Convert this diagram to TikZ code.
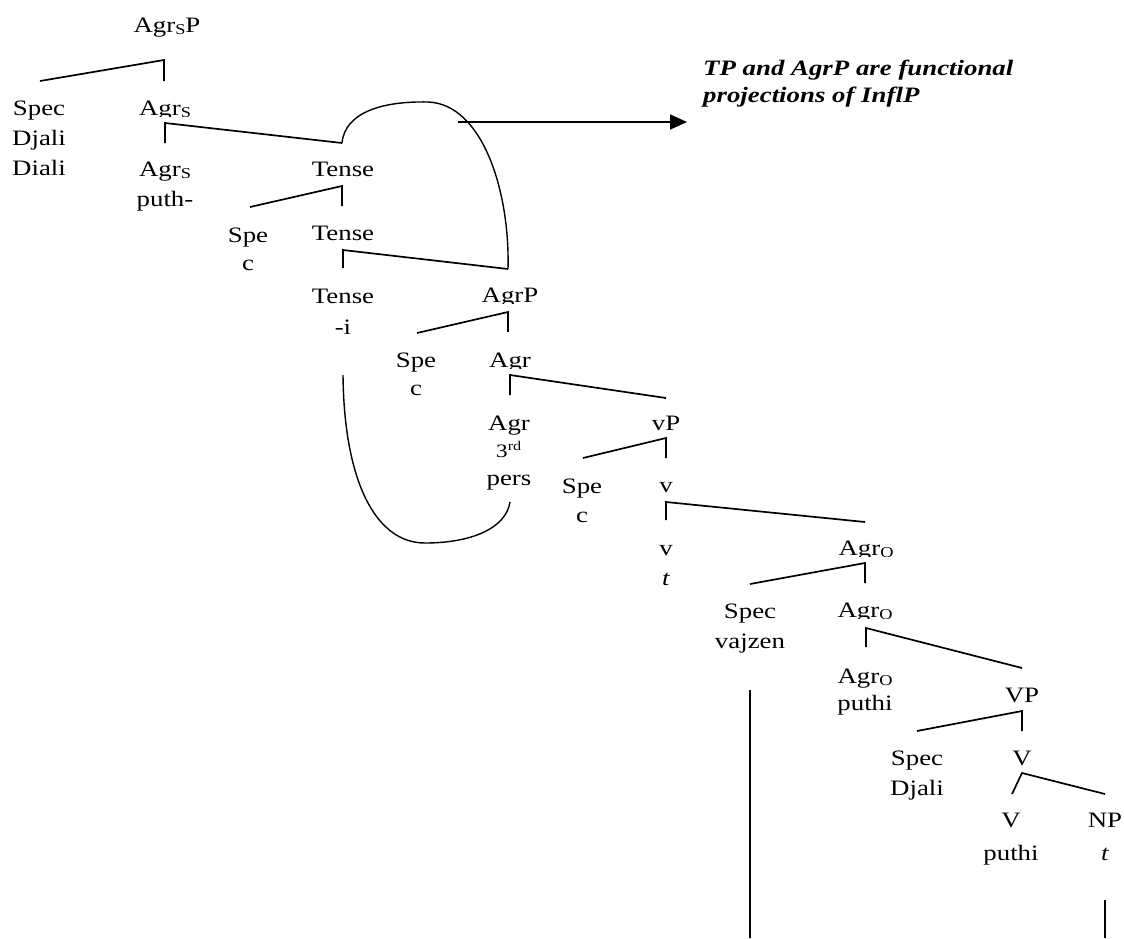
\documentclass[tikz,border=0pt]{standalone}
\usepackage{fontspec}
\setmainfont{Liberation Serif}[FakeStretch=1.22]
\usetikzlibrary{arrows.meta}
\newcommand\stk[1]{\begin{tabular}[t]{@{}c@{}}#1\end{tabular}}
\newcommand\sbs[1]{\raisebox{-0.25ex}{\fontsize{15}{15}\selectfont #1}}
\begin{document}
\begin{tikzpicture}[x=1pt,y=-1pt,
  br/.style={line width=1.7pt},
  loop/.style={line width=1.4pt},
  lbl/.style={inner sep=0pt, anchor=base, font=\fontsize{22}{30}\selectfont},
  note/.style={inner sep=0pt, anchor=base west, align=left, font=\fontsize{22}{27}\selectfont\bfseries\itshape}]
\useasboundingbox (0,0) rectangle (1124,938);

% ---------- labels ----------
\node[lbl] (agrsp) at (167,32) {Agr\sbs{S}P};
\node[lbl] (spec1) at (39,115) {\stk{Spec\\Djali\\Diali}};
\begin{scope}\clip (100,80) rectangle (230,116);
\node[lbl] (agrsbar) at (165,115) {Agr\sbs{S}};
\end{scope}
\node[lbl] (agrs) at (165,176) {\stk{Agr\sbs{S}\\puth-}};
\node[lbl] (tense1) at (343,176) {Tense};
\node[lbl] (spec2) at (248,242) {\stk{Spe\\[-2pt]c}};
\begin{scope}\clip (280,205) rectangle (410,241);
\node[lbl] (tensebar) at (343,240) {Tense};
\end{scope}
\node[lbl] (tense2) at (343,303) {\stk{Tense\\[1pt]-i}};
\begin{scope}\clip (450,270) rectangle (570,303);
\node[lbl] (agrp) at (510,302) {AgrP};
\end{scope}
\node[lbl] (spec3) at (416,367) {\stk{Spe\\[-2pt]c}};
\begin{scope}\clip (460,335) rectangle (560,368);
\node[lbl] (agrbar) at (510,367) {Agr};
\end{scope}
\node[lbl] (agr) at (509,430) {\stk{Agr\\[-3pt]{\fontsize{19}{20}\selectfont 3\textsuperscript{rd}}\\[-2pt]pers}};
\node[lbl] (vp) at (666,430) {vP};
\node[lbl] (spec4) at (582,493) {\stk{Spe\\[-1pt]c}};
\node[lbl] (vbar) at (666,492) {v};
\node[lbl] (vt) at (666,555) {\stk{v\\\textit{t}}};
\begin{scope}\clip (800,525) rectangle (940,556);
\node[lbl] (agrop) at (866,555) {Agr\sbs{O}};
\end{scope}
\node[lbl] (spec5) at (750,618) {\stk{Spec\\vajzen}};
\begin{scope}\clip (800,590) rectangle (940,618);
\node[lbl] (agrobar) at (865,617) {Agr\sbs{O}};
\end{scope}
\node[lbl] (agro) at (865,683) {\stk{Agr\sbs{O}\\[-3pt]puthi}};
\node[lbl] (VP) at (1022,702) {VP};
\node[lbl] (spec6) at (917,765) {\stk{Spec\\Djali}};
\node[lbl] (Vbar) at (1022,765) {V};
\node[lbl] (V) at (1011,827) {\stk{V\\[3pt]puthi}};
\node[lbl] (NP) at (1105,827) {\stk{NP\\[3pt]\textit{t}}};
\node[note] (note) at (703,102) {TP and AgrP are functional\\projections of InflP};

% ---------- bracket coordinates ----------
\coordinate (a1) at (164,60);  \coordinate (l1) at (40,81);   \coordinate (r1) at (164,81);
\coordinate (a2) at (165,123); \coordinate (l2) at (165,143); \coordinate (r2) at (342,143);
\coordinate (a3) at (342,186); \coordinate (l3) at (250,207); \coordinate (r3) at (342,206);
\coordinate (a4) at (343,250); \coordinate (l4) at (343,268); \coordinate (r4) at (508,269);
\coordinate (a5) at (508,312); \coordinate (l5) at (417,333); \coordinate (r5) at (508,332);
\coordinate (a6) at (510,375); \coordinate (l6) at (510,395); \coordinate (r6) at (666,398);
\coordinate (a7) at (666,438); \coordinate (l7) at (583,458); \coordinate (r7) at (666,458);
\coordinate (a8) at (666,502); \coordinate (l8) at (666,520); \coordinate (r8) at (865,522);
\coordinate (a9) at (865,563); \coordinate (l9) at (750,584); \coordinate (r9) at (865,583);
\coordinate (a10) at (866,628); \coordinate (l10) at (866,647); \coordinate (r10) at (1022,668);
\coordinate (a11) at (1022,711); \coordinate (l11) at (917,731); \coordinate (r11) at (1022,731);
\coordinate (a12) at (1022,773); \coordinate (l12) at (1012,794); \coordinate (r12) at (1105,794);

\foreach \i in {1,...,12} {\draw[br] (l\i) -- (a\i) -- (r\i);}

% ---------- traces ----------
\coordinate (t1s) at (750,690); \coordinate (t1e) at (750,938);
\coordinate (t2s) at (1105,900); \coordinate (t2e) at (1105,938);
\draw[br] (t1s) -- (t1e);
\draw[br] (t2s) -- (t2e);

% ---------- loops ----------
\coordinate (ctop) at (428,102);
\draw[loop] (r2) .. controls (345,112) and (383,101) .. (ctop)
  .. controls (482,104) and (510,190) .. (r4);
\coordinate (cb1) at (343,375); \coordinate (cbot) at (425,543); \coordinate (cb2) at (510,502);
\draw[loop] (cb1) .. controls (344,480) and (375,543) .. (cbot)
  .. controls (472,543) and (506,528) .. (cb2);

% ---------- arrow ----------
\coordinate (arS) at (458,122); \coordinate (arE) at (687,122);
\draw[line width=1.7pt, -{Triangle[length=17pt,width=15pt]}] (arS) -- (arE);
\end{tikzpicture}
\end{document}
